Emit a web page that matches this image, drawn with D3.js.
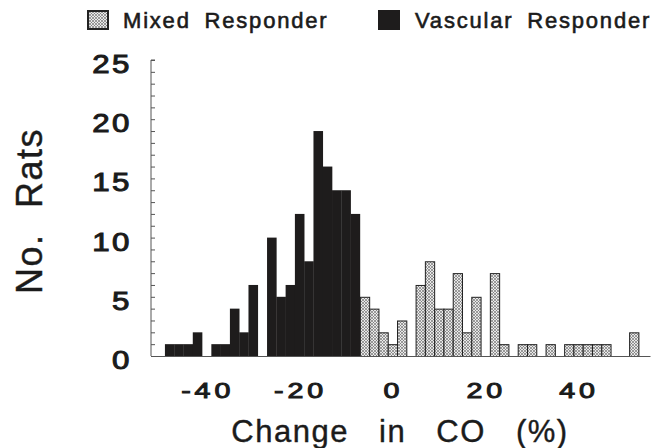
<!DOCTYPE html>
<html>
<head>
<meta charset="utf-8">
<script src="https://cdn.jsdelivr.net/npm/d3@7"></script>
<style>
  html, body { margin: 0; padding: 0; background: #fff; }
  svg { display: block; }
  text { fill: #1b1b1b; font-family: "Liberation Sans", Arial, sans-serif; }
</style>
</head>
<body>
<svg id="chart" width="665" height="448"></svg>
<script>
// ---- data (bin centres in %, counts per 2% bin) ----
const vascularBins   = [-48,-46,-44,-42,-40,-38,-36,-34,-32,-30,-28,-26,-24,-22,-20,-18,-16,-14,-12,-10,-8];
const vascularCounts = [1,1,1,2,0,1,1,4,2,6,0,10,5,6,12,8,19,16,14,14,12];
const mixedBins      = [-6,-4,-2,0,2,4,6,8,10,12,14,16,18,20,22,24,26,28,30,32,34,36,38,40,42,44,46,48,50,52];
const mixedCounts    = [5,4,2,1,3,0,6,8,4,4,7,2,5,0,7,1,0,1,1,0,1,0,1,1,1,1,1,0,0,2];
const binWidth = 2;
const xTickValues = [-40,-20,0,20,40];
const yTickValues = [0,5,10,15,20,25];
const yMinorTicks = [0,1,2,3,4,5,6,7,8,9,10,11,12,13,14,15,16,17,18,19,20,21,22,23,24,25];
const seriesNames = ["Mixed Responder", "Vascular Responder"];
const xTitle = "Change in CO (%)";
const yTitle = "No. Rats";

const svg = d3.select("#chart");

// hatch pattern
const defs = svg.append("defs");
const pat = defs.append("pattern")
  .attr("id", "hatch").attr("patternUnits", "userSpaceOnUse")
  .attr("width", 3).attr("height", 3);
pat.append("rect").attr("width", 3).attr("height", 3).attr("fill", "#e8e8e8");
pat.append("path").attr("d", "M0,0 L3,3 M3,0 L0,3")
  .attr("stroke", "#707070").attr("stroke-width", 0.65);

const x = d3.scaleLinear().domain([-52, 55.5]).range([151, 650]);
const y = d3.scaleLinear().domain([0, 25]).range([356, 60]);

// bars
const vasc = vascularBins.map((c, i) => ({c, v: vascularCounts[i]})).filter(d => d.v > 0);
const mixed = mixedBins.map((c, i) => ({c, v: mixedCounts[i]})).filter(d => d.v > 0);

svg.append("g").selectAll("rect").data(vasc).join("rect")
  .attr("x", d => x(d.c - binWidth / 2))
  .attr("width", d => x(d.c + binWidth / 2) - x(d.c - binWidth / 2) + 0.3)
  .attr("y", d => y(d.v))
  .attr("height", d => y(0) - y(d.v))
  .attr("fill", "#1e1c1c");

svg.append("g").selectAll("rect").data(mixed).join("rect")
  .attr("x", d => x(d.c - binWidth / 2) + 0.5)
  .attr("width", d => x(d.c + binWidth / 2) - x(d.c - binWidth / 2))
  .attr("y", d => y(d.v) + 0.5)
  .attr("height", d => y(0) - y(d.v))
  .attr("fill", "url(#hatch)")
  .attr("stroke", "#222").attr("stroke-width", 1);

// y axis (line + minor ticks pointing inward)
const yAxis = d3.axisRight(y).tickValues(yMinorTicks).tickSize(4).tickFormat("");
const gy = svg.append("g").attr("transform", "translate(151,0)").call(yAxis);
gy.select(".domain").attr("stroke", "#555").attr("d", `M4,${y(25)}H0V${y(0)}`);
gy.selectAll(".tick line").attr("stroke", "#555");

// x axis baseline
const xAxis = d3.axisBottom(x).tickValues([]).tickSizeOuter(0);
const gx = svg.append("g").attr("transform", `translate(0,${y(0)})`).call(xAxis);
gx.select(".domain").attr("stroke", "#555");

// y tick labels
svg.append("g").selectAll("text").data(yTickValues).join("text")
  .attr("transform", d => `translate(132,${y(d) + 13}) scale(1.25,1)`)
  .attr("text-anchor", "end")
  .attr("font-size", 25)
  .attr("stroke", "#1b1b1b").attr("stroke-width", 1)
  .attr("letter-spacing", 2)
  .text(d => d);

// x tick labels
svg.append("g").selectAll("text").data(xTickValues).join("text")
  .attr("transform", d => `translate(${x(d) + 1},398) scale(1.3,1)`)
  .attr("text-anchor", "middle")
  .attr("font-size", 22)
  .attr("stroke", "#1b1b1b").attr("stroke-width", 1)
  .attr("letter-spacing", 3)
  .text(d => d < 0 ? "-" + Math.abs(d) : d);

// axis titles
svg.append("text")
  .attr("x", 400).attr("y", 442)
  .attr("text-anchor", "middle")
  .attr("font-size", 31).attr("letter-spacing", 1.5).attr("word-spacing", 20)
  .attr("stroke", "#1b1b1b").attr("stroke-width", 0.4)
  .text(xTitle);

svg.append("text")
  .attr("transform", "translate(42,211) rotate(-90)")
  .attr("text-anchor", "middle")
  .attr("font-size", 36).attr("letter-spacing", 1.5).attr("word-spacing", 14)
  .attr("stroke", "#1b1b1b").attr("stroke-width", 0.4)
  .text(yTitle);

// legend
const legend = svg.append("g");
legend.append("rect").attr("x", 88).attr("y", 11).attr("width", 20).attr("height", 18)
  .attr("fill", "url(#hatch)").attr("stroke", "#222").attr("stroke-width", 2);
legend.append("text").attr("x", 123).attr("y", 28)
  .attr("font-size", 22).attr("letter-spacing", 1.8).attr("word-spacing", 6)
  .attr("stroke", "#1b1b1b").attr("stroke-width", 0.6)
  .text(seriesNames[0]);
legend.append("rect").attr("x", 378).attr("y", 10).attr("width", 22).attr("height", 20)
  .attr("fill", "#1e1c1c");
legend.append("text").attr("x", 415).attr("y", 28)
  .attr("font-size", 22).attr("letter-spacing", 1.8).attr("word-spacing", 6)
  .attr("stroke", "#1b1b1b").attr("stroke-width", 0.6)
  .text(seriesNames[1]);
</script>
</body>
</html>
